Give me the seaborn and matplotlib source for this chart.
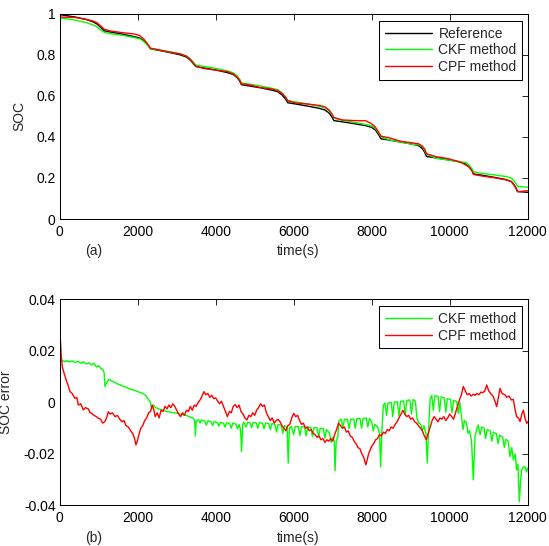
import matplotlib
matplotlib.use("Agg")
import matplotlib.pyplot as plt
import seaborn as sns

# (a) SOC curves, sampled on a common time grid (s)
soc_time = [0, 400, 700, 850, 950, 1050, 1140,
            1300, 1600, 1900, 2050, 2150, 2250, 2330,
            2500, 2800, 3100, 3250, 3350, 3430, 3490,
            3700, 4000, 4300, 4450, 4550, 4620, 4660,
            4850, 5150, 5450, 5600, 5700, 5790, 5850,
            6050, 6350, 6650, 6800, 6900, 6980, 7030,
            7250, 7550, 7850, 8000, 8100, 8180, 8240,
            8450, 8750, 9050, 9200, 9300, 9360, 9405,
            9650, 9950, 10250, 10400, 10500, 10570, 10610,
            10850, 11150, 11450, 11580, 11660, 11710, 11740,
            12000]
soc_ref = [0.997, 0.985, 0.972, 0.962, 0.952, 0.935, 0.918,
           0.912, 0.902, 0.890, 0.883, 0.870, 0.850, 0.830,
           0.824, 0.813, 0.800, 0.790, 0.775, 0.758, 0.744,
           0.737, 0.727, 0.714, 0.705, 0.690, 0.672, 0.655,
           0.649, 0.640, 0.628, 0.620, 0.605, 0.585, 0.567,
           0.561, 0.551, 0.540, 0.532, 0.518, 0.498, 0.480,
           0.474, 0.465, 0.455, 0.447, 0.433, 0.410, 0.391,
           0.385, 0.375, 0.365, 0.358, 0.343, 0.325, 0.305,
           0.298, 0.289, 0.279, 0.270, 0.255, 0.238, 0.220,
           0.213, 0.203, 0.192, 0.183, 0.165, 0.148, 0.134,
           0.130]
soc_ckf = [0.981, 0.970, 0.957, 0.947, 0.938, 0.922, 0.911,
           0.904, 0.896, 0.885, 0.879, 0.867, 0.848, 0.830,
           0.826, 0.816, 0.805, 0.795, 0.781, 0.764, 0.751,
           0.744, 0.735, 0.722, 0.713, 0.698, 0.681, 0.664,
           0.658, 0.649, 0.637, 0.630, 0.615, 0.595, 0.577,
           0.571, 0.561, 0.550, 0.543, 0.529, 0.510, 0.493,
           0.481, 0.472, 0.461, 0.454, 0.441, 0.419, 0.401,
           0.386, 0.375, 0.364, 0.362, 0.353, 0.335, 0.317,
           0.296, 0.288, 0.279, 0.276, 0.262, 0.246, 0.230,
           0.222, 0.215, 0.207, 0.199, 0.183, 0.170, 0.159,
           0.155]
soc_cpf = [0.985, 0.983, 0.973, 0.966, 0.958, 0.942, 0.926,
           0.917, 0.909, 0.903, 0.895, 0.879, 0.855, 0.833,
           0.827, 0.815, 0.805, 0.794, 0.778, 0.760, 0.745,
           0.734, 0.726, 0.719, 0.707, 0.692, 0.675, 0.659,
           0.655, 0.641, 0.634, 0.625, 0.613, 0.595, 0.577,
           0.566, 0.561, 0.554, 0.547, 0.533, 0.513, 0.495,
           0.483, 0.480, 0.479, 0.464, 0.447, 0.423, 0.404,
           0.396, 0.379, 0.371, 0.367, 0.355, 0.340, 0.318,
           0.304, 0.295, 0.279, 0.265, 0.252, 0.235, 0.217,
           0.209, 0.201, 0.191, 0.182, 0.162, 0.145, 0.133,
           0.138]

# (b) SOC error of CKF (with its sawtooth spikes)
ckf_err_t = [0, 10, 25, 50, 120, 180, 250, 320, 400, 470, 540, 600, 680, 750,
             820, 880, 940, 1000, 1060, 1110, 1140, 1160, 1200, 1260, 1320,
             1400, 1480, 1560, 1640, 1720, 1800, 1880, 1960, 2040, 2120, 2200,
             2260, 2320, 2360, 2400, 2460, 2550, 2650, 2750, 2850, 2950, 3050,
             3150, 3250, 3350, 3420, 3460, 3480, 3500, 3560, 3600, 3640, 3720,
             3760, 3800, 3880, 3920, 3960, 4040, 4080, 4120, 4200, 4240, 4280,
             4360, 4400, 4440, 4520, 4560, 4600, 4640, 4665, 4690, 4720, 4780,
             4820, 4880, 4920, 4960, 5040, 5080, 5120, 5200, 5240, 5280, 5360,
             5400, 5440, 5520, 5560, 5600, 5680, 5720, 5760, 5830, 5860, 5890,
             5940, 6000, 6040, 6120, 6160, 6200, 6280, 6320, 6360, 6440, 6480,
             6520, 6600, 6640, 6680, 6760, 6800, 6840, 6920, 6960, 7000, 7040,
             7060, 7090, 7130, 7160, 7220, 7260, 7300, 7380, 7420, 7460, 7540,
             7580, 7620, 7700, 7740, 7780, 7860, 7900, 7940, 8000, 8040, 8080,
             8150, 8200, 8230, 8260, 8300, 8340, 8380, 8420, 8500, 8540, 8580,
             8660, 8700, 8740, 8820, 8860, 8900, 8980, 9020, 9060, 9120, 9160,
             9200, 9260, 9300, 9340, 9390, 9425, 9460, 9500, 9540, 9580, 9620,
             9700, 9740, 9780, 9860, 9900, 9940, 10020, 10060, 10100, 10180,
             10220, 10260, 10300, 10340, 10380, 10430, 10470, 10510, 10560,
             10605, 10650, 10730, 10780, 10820, 10880, 10920, 10960, 11040,
             11080, 11120, 11200, 11240, 11280, 11360, 11400, 11440, 11500,
             11546, 11590, 11631, 11680, 11717, 11750, 11786, 11820, 11846,
             11890, 11931, 11970, 12000]
ckf_err_v = [0.0400, 0.0300, 0.0180, 0.0165, 0.0158, 0.0163, 0.0157, 0.0162,
             0.0155, 0.0160, 0.0152, 0.0158, 0.0150, 0.0154, 0.0146, 0.0152,
             0.0138, 0.0143, 0.0132, 0.0127, 0.0115, 0.0062, 0.0075, 0.0090,
             0.0084, 0.0080, 0.0072, 0.0068, 0.0062, 0.0058, 0.0052, 0.0049,
             0.0045, 0.0040, 0.0036, 0.0028, 0.0015, 0.0002, -0.0025, -0.0010,
             -0.0020, -0.0025, -0.0030, -0.0035, -0.0038, -0.0040, -0.0043,
             -0.0047, -0.0050, -0.0057, -0.0060, -0.0070, -0.0130, -0.0072,
             -0.0066, -0.0080, -0.0068, -0.0072, -0.0088, -0.0071, -0.0075,
             -0.0090, -0.0074, -0.0078, -0.0092, -0.0077, -0.0080, -0.0096,
             -0.0079, -0.0082, -0.0100, -0.0080, -0.0084, -0.0102, -0.0085,
             -0.0110, -0.0190, -0.0090, -0.0076, -0.0095, -0.0077, -0.0078,
             -0.0098, -0.0078, -0.0079, -0.0100, -0.0079, -0.0080, -0.0102,
             -0.0080, -0.0082, -0.0105, -0.0082, -0.0085, -0.0115, -0.0086,
             -0.0088, -0.0120, -0.0090, -0.0095, -0.0235, -0.0100, -0.0092,
             -0.0125, -0.0093, -0.0094, -0.0128, -0.0094, -0.0095, -0.0130,
             -0.0096, -0.0097, -0.0132, -0.0097, -0.0099, -0.0135, -0.0100,
             -0.0102, -0.0138, -0.0105, -0.0120, -0.0155, -0.0135, -0.0150,
             -0.0265, -0.0150, -0.0135, -0.0070, -0.0066, -0.0100, -0.0065,
             -0.0066, -0.0102, -0.0065, -0.0064, -0.0100, -0.0063, -0.0062,
             -0.0100, -0.0062, -0.0060, -0.0095, -0.0062, -0.0075, -0.0110,
             -0.0085, -0.0095, -0.0120, -0.0250, -0.0110, -0.0010, -0.0003,
             -0.0050, -0.0002, 0.0000, -0.0055, 0.0001, 0.0003, -0.0052,
             0.0004, 0.0006, -0.0050, 0.0008, 0.0010, -0.0045, 0.0012, 0.0005,
             -0.0060, -0.0080, -0.0085, -0.0110, -0.0090, -0.0120, -0.0235,
             -0.0100, 0.0015, 0.0028, -0.0030, 0.0026, 0.0024, -0.0035, 0.0022,
             0.0018, -0.0038, 0.0015, 0.0012, -0.0040, 0.0008, 0.0004, -0.0042,
             0.0000, -0.0050, -0.0105, -0.0070, -0.0080, -0.0120, -0.0110,
             -0.0150, -0.0300, -0.0130, -0.0087, -0.0125, -0.0095, -0.0100,
             -0.0140, -0.0105, -0.0110, -0.0150, -0.0115, -0.0122, -0.0160,
             -0.0127, -0.0135, -0.0175, -0.0143, -0.0150, -0.0210, -0.0175,
             -0.0223, -0.0200, -0.0262, -0.0240, -0.0385, -0.0300, -0.0260,
             -0.0250, -0.0250, -0.0270, -0.0255]

# (b) SOC error of CPF
cpf_err_t = [0, 15, 40, 67, 120, 180, 220, 264, 320, 392, 440, 478, 540, 606,
             660, 734, 780, 820, 880, 940, 990, 1050, 1100, 1162, 1200, 1247,
             1300, 1350, 1420, 1480, 1540, 1600, 1650, 1700, 1760, 1820, 1870,
             1920, 1955, 1990, 2040, 2080, 2130, 2180, 2230, 2280, 2330, 2370,
             2410, 2450, 2500, 2550, 2600, 2650, 2700, 2750, 2800, 2850, 2900,
             2950, 3000, 3050, 3100, 3150, 3200, 3250, 3300, 3350, 3400, 3450,
             3500, 3550, 3600, 3650, 3700, 3750, 3800, 3850, 3900, 3950, 4000,
             4050, 4100, 4150, 4200, 4250, 4300, 4350, 4400, 4450, 4500, 4550,
             4600, 4650, 4700, 4750, 4800, 4850, 4900, 4950, 5000, 5050, 5100,
             5150, 5200, 5250, 5300, 5350, 5400, 5450, 5500, 5550, 5600, 5650,
             5700, 5750, 5800, 5850, 5900, 5950, 6000, 6050, 6100, 6150, 6200,
             6250, 6300, 6350, 6400, 6450, 6500, 6550, 6600, 6650, 6700, 6750,
             6800, 6850, 6900, 6950, 7000, 7050, 7100, 7150, 7200, 7250, 7300,
             7350, 7400, 7450, 7500, 7550, 7600, 7650, 7700, 7750, 7800, 7850,
             7880, 7920, 7960, 8000, 8050, 8100, 8150, 8200, 8250, 8300, 8350,
             8400, 8450, 8500, 8550, 8600, 8650, 8700, 8750, 8800, 8850, 8900,
             8950, 9000, 9050, 9100, 9150, 9200, 9250, 9300, 9350, 9400, 9450,
             9500, 9550, 9600, 9650, 9700, 9750, 9800, 9850, 9900, 9950, 10000,
             10050, 10100, 10150, 10200, 10250, 10300, 10349, 10400, 10450,
             10500, 10550, 10600, 10650, 10700, 10750, 10800, 10850, 10900,
             10949, 11000, 11050, 11118, 11160, 11204, 11250, 11290, 11340,
             11417, 11460, 11520, 11580, 11631, 11680, 11717, 11760, 11803,
             11850, 11888, 11930, 11974, 12000]
cpf_err_v = [0.0250, 0.0250, 0.0180, 0.0139, 0.0110, 0.0081, 0.0065, 0.0042,
             0.0035, 0.0016, 0.0020, -0.0010, -0.0005, -0.0029, -0.0020,
             -0.0025, -0.0040, -0.0042, -0.0050, -0.0055, -0.0061, -0.0065,
             -0.0080, -0.0074, -0.0060, -0.0036, -0.0045, -0.0040, -0.0055,
             -0.0050, -0.0065, -0.0075, -0.0070, -0.0090, -0.0095, -0.0110,
             -0.0120, -0.0140, -0.0165, -0.0150, -0.0120, -0.0100, -0.0090,
             -0.0070, -0.0060, -0.0040, -0.0035, -0.0010, -0.0025, -0.0055,
             -0.0040, -0.0060, -0.0030, -0.0035, -0.0015, -0.0025, -0.0010,
             -0.0020, -0.0005, -0.0015, -0.0030, -0.0045, -0.0055, -0.0040,
             -0.0050, -0.0030, -0.0035, -0.0015, -0.0030, -0.0010, -0.0015,
             0.0000, 0.0010, 0.0025, 0.0042, 0.0030, 0.0035, 0.0020, 0.0028,
             0.0015, 0.0018, 0.0005, -0.0005, 0.0005, -0.0015, -0.0035,
             -0.0055, -0.0035, -0.0040, -0.0015, -0.0008, -0.0020, -0.0010,
             -0.0035, -0.0045, -0.0060, -0.0068, -0.0050, -0.0055, -0.0040,
             -0.0050, -0.0030, -0.0020, -0.0005, -0.0015, -0.0010, -0.0040,
             -0.0055, -0.0070, -0.0060, -0.0080, -0.0070, -0.0065, -0.0075,
             -0.0090, -0.0100, -0.0110, -0.0090, -0.0085, -0.0060, -0.0042,
             -0.0055, -0.0050, -0.0070, -0.0085, -0.0080, -0.0100, -0.0095,
             -0.0110, -0.0105, -0.0120, -0.0125, -0.0135, -0.0130, -0.0145,
             -0.0140, -0.0155, -0.0145, -0.0150, -0.0140, -0.0150, -0.0125,
             -0.0105, -0.0080, -0.0090, -0.0100, -0.0095, -0.0115, -0.0110,
             -0.0130, -0.0135, -0.0150, -0.0160, -0.0175, -0.0180, -0.0200,
             -0.0215, -0.0242, -0.0225, -0.0200, -0.0185, -0.0170, -0.0160,
             -0.0145, -0.0140, -0.0125, -0.0130, -0.0115, -0.0120, -0.0105,
             -0.0110, -0.0095, -0.0100, -0.0085, -0.0075, -0.0060, -0.0045,
             -0.0030, -0.0045, -0.0055, -0.0050, -0.0065, -0.0060, -0.0075,
             -0.0080, -0.0090, -0.0100, -0.0110, -0.0130, -0.0145, -0.0120,
             -0.0095, -0.0070, -0.0055, -0.0065, -0.0075, -0.0060, -0.0065,
             -0.0055, -0.0070, -0.0060, -0.0045, -0.0055, -0.0065, -0.0040,
             -0.0015, 0.0010, 0.0030, 0.0062, 0.0045, 0.0030, 0.0035, 0.0025,
             0.0032, 0.0028, 0.0035, 0.0030, 0.0040, 0.0038, 0.0045, 0.0068,
             0.0045, 0.0035, 0.0023, 0.0005, -0.0016, 0.0020, 0.0055, 0.0035,
             0.0030, 0.0020, 0.0025, 0.0010, 0.0012, -0.0030, -0.0055, -0.0060,
             -0.0074, -0.0045, -0.0030, -0.0060, -0.0081, -0.0075]

x_ticks = [0, 2000, 4000, 6000, 8000, 10000, 12000]
soc_ticks = [0, 0.2, 0.4, 0.6, 0.8, 1]
err_ticks = [-0.04, -0.02, 0, 0.02, 0.04]
soc_tick_labels = ["0", "0.2", "0.4", "0.6", "0.8", "1"]
err_tick_labels = ["-0.04", "-0.02", "0", "0.02", "0.04"]

sns.set_style("white")
plt.rcParams['font.family'] = ['Liberation Sans', 'DejaVu Sans']
plt.rcParams['font.size'] = 10

fig = plt.figure(figsize=(5.49, 5.46), dpi=100)
ax1 = fig.add_axes([0.1087, 0.5989, 0.8525, 0.3755])
ax2 = fig.add_axes([0.1087, 0.0742, 0.8525, 0.3773])

green = (0, 1, 0)
red = (1, 0, 0)

sns.lineplot(x=soc_time, y=soc_ref, color='k', linewidth=1, label='Reference', estimator=None, ax=ax1)
sns.lineplot(x=soc_time, y=soc_ckf, color=green, linewidth=1, label='CKF method', estimator=None, ax=ax1)
sns.lineplot(x=soc_time, y=soc_cpf, color=red, linewidth=1, label='CPF method', estimator=None, ax=ax1)

sns.lineplot(x=ckf_err_t, y=ckf_err_v, color=green, linewidth=1, label='CKF method', estimator=None, ax=ax2)
sns.lineplot(x=cpf_err_t, y=cpf_err_v, color=red, linewidth=1, label='CPF method', estimator=None, ax=ax2)

ax1.set_ylim(0, 1)
ax1.set_yticks(soc_ticks)
ax1.set_yticklabels(soc_tick_labels)
ax2.set_ylim(-0.04, 0.04)
ax2.set_yticks(err_ticks)
ax2.set_yticklabels(err_tick_labels)

for ax, ylab, ylab_x, tag in [(ax1, 'SOC', -0.072, '(a)'), (ax2, 'SOC error', -0.100, '(b)')]:
    ax.set_xlim(0, 12000)
    ax.set_xticks(x_ticks)
    ax.tick_params(direction='in', top=True, right=True, length=4, width=0.6,
                   labelsize=10, colors='k')
    ax.tick_params(axis='x', pad=4)
    ax.tick_params(axis='y', pad=3)
    for sp in ax.spines.values():
        sp.set_color('k')
        sp.set_linewidth(0.75)
    ax.set_ylabel(ylab, fontsize=10)
    ax.yaxis.set_label_coords(ylab_x, 0.5)
    ax.set_xlabel('')
    ax.text(0.509, -0.156, 'time(s)', transform=ax.transAxes, ha='center', va='center', fontsize=10)
    ax.text(0.073, -0.156, tag, transform=ax.transAxes, ha='center', va='center', fontsize=10)
    leg = ax.legend(loc='upper right', bbox_to_anchor=(0.988, 0.966), borderaxespad=0,
                    fancybox=False, framealpha=1, edgecolor='k', fontsize=10,
                    handlelength=3.4, handletextpad=0.45, labelspacing=0.2,
                    borderpad=0.4)
    leg.get_frame().set_linewidth(0.75)

fig.savefig('out.png', dpi=100)
